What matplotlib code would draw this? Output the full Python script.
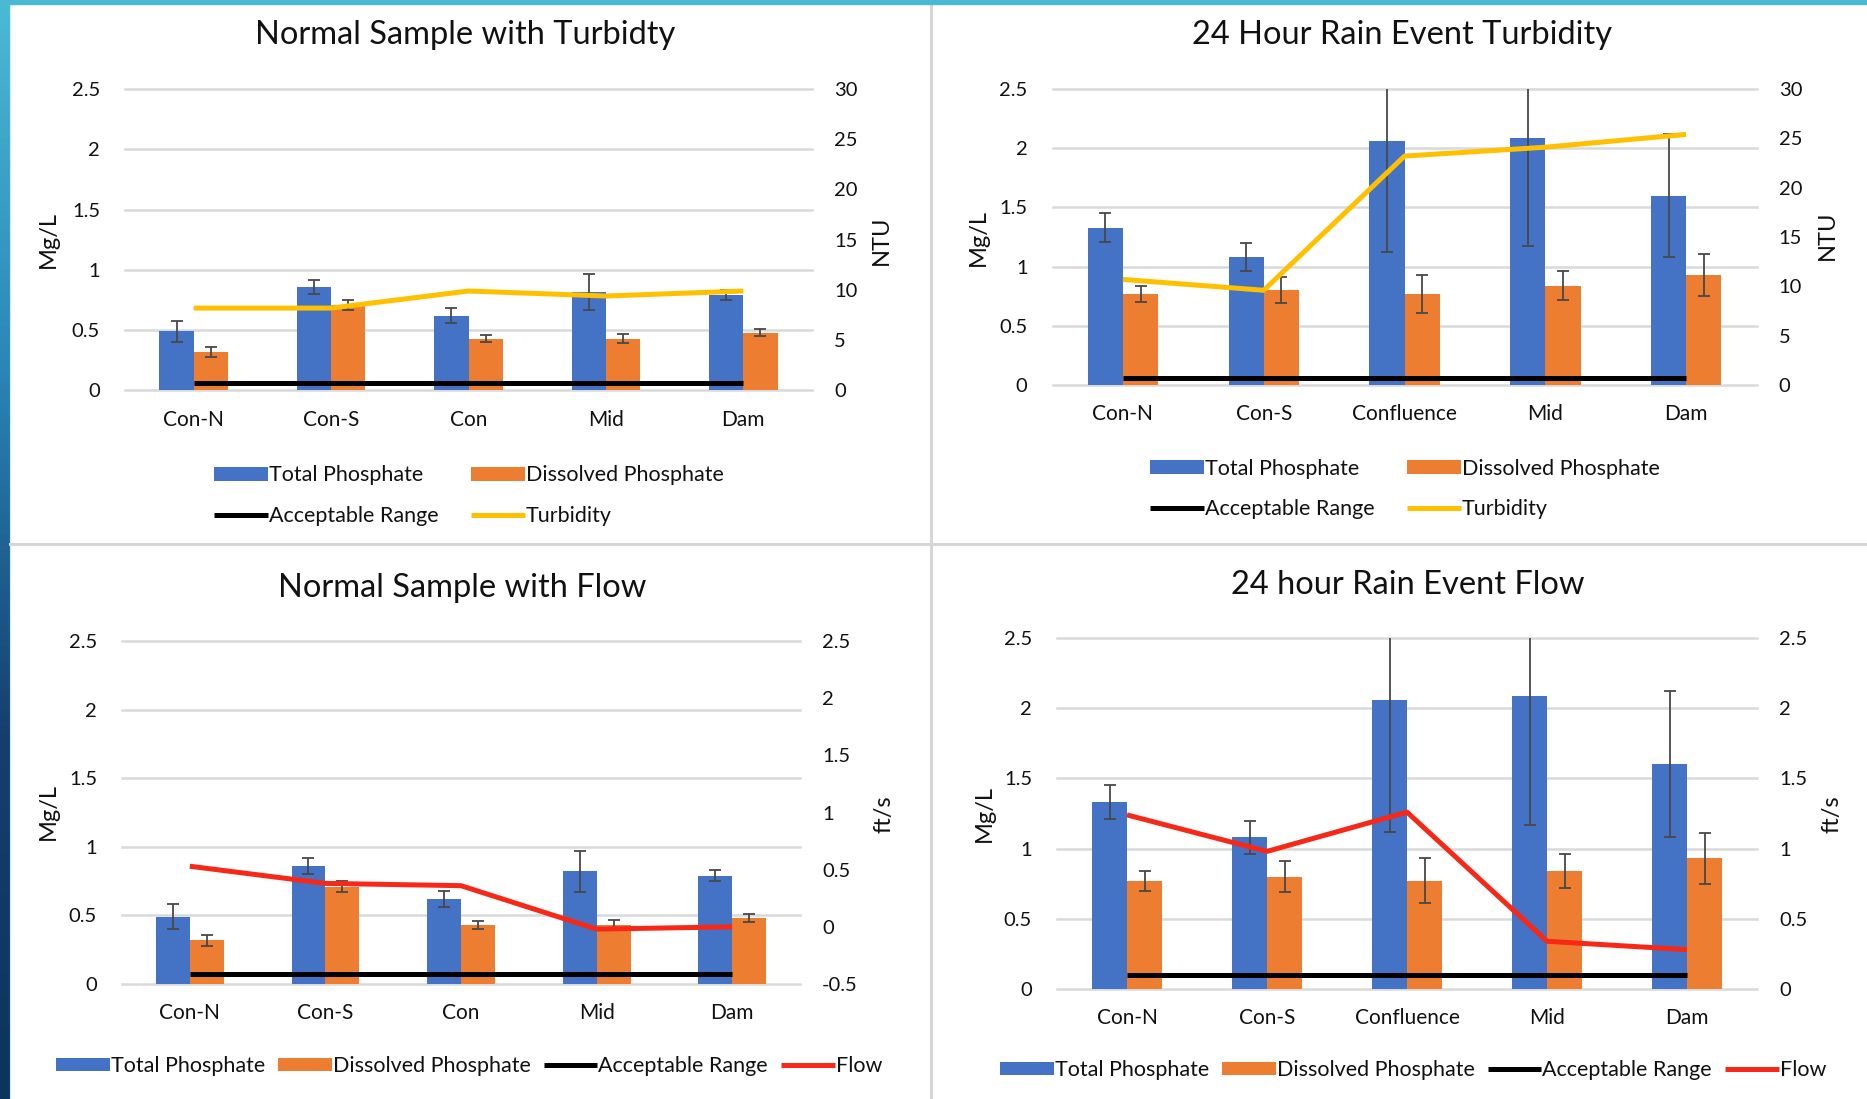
import numpy as np
import matplotlib
matplotlib.use("Agg")
import matplotlib.pyplot as plt
from matplotlib.colors import LinearSegmentedColormap
from matplotlib.lines import Line2D
from matplotlib.patches import Rectangle

plt.rcParams['font.family'] = ['Lato', 'DejaVu Sans']
plt.rcParams['axes.unicode_minus'] = False

# --- data ---
sites_normal = ["Con-N", "Con-S", "Con", "Mid", "Dam"]
sites_rain = ["Con-N", "Con-S", "Confluence", "Mid", "Dam"]

normal_total = [0.49, 0.86, 0.62, 0.82, 0.79]
normal_total_err = [0.09, 0.06, 0.06, 0.15, 0.04]
normal_dissolved = [0.32, 0.71, 0.43, 0.43, 0.48]
normal_dissolved_err = [0.04, 0.04, 0.03, 0.04, 0.03]
normal_turbidity = [8.2, 8.2, 9.9, 9.4, 9.9]      # NTU
normal_flow = [0.53, 0.38, 0.36, -0.02, 0.0]      # ft/s

rain_total = [1.33, 1.08, 2.06, 2.09, 1.60]
rain_total_err = [0.12, 0.12, 0.94, 0.92, 0.52]
rain_dissolved = [0.77, 0.80, 0.77, 0.84, 0.93]
rain_dissolved_err = [0.07, 0.11, 0.16, 0.12, 0.18]
rain_turbidity = [10.7, 9.6, 23.2, 24.1, 25.4]    # NTU
rain_flow = [1.24, 0.98, 1.26, 0.34, 0.28]        # ft/s

# acceptable range line as drawn in each chart (Mg/L)
accept_normal_turb = 0.06
accept_rain_turb = 0.06
accept_normal_flow = 0.07
accept_rain_flow = 0.10

left_ticks = [0, 0.5, 1, 1.5, 2, 2.5]
ntu_ticks = [0, 5, 10, 15, 20, 25, 30]
flow_ticks_normal = [-0.5, 0, 0.5, 1, 1.5, 2, 2.5]
flow_ticks_rain = [0, 0.5, 1, 1.5, 2, 2.5]

BLUE = '#4472C4'
ORANGE = '#ED7D31'
YELLOW = '#FFC000'
RED = '#F82818'
GRID = '#d9d9d9'
TITLE_FS = 23.5
TICK_FS = 14.5
XTICK_FS = 15
LEG_FS = 15.5
LABEL_FS = 17

W, H = 1867, 1099
fig = plt.figure(figsize=(W / 100, H / 100), dpi=100)
fig.patch.set_facecolor('white')


def px_rect(left, top, right, bottom):
    return [left / W, 1 - bottom / H, (right - left) / W, (bottom - top) / H]


def fig_text(x, y, s, **kw):
    fig.text(x / W, 1 - y / H, s, ha='center', va='center', color='#111111', **kw)


def draw_panel(box, sites, total, total_err, dissolved, dissolved_err,
               accept, line_vals, line_color, right_ticks):
    ax = fig.add_axes(px_rect(*box))
    x = np.arange(len(sites))
    w = 0.25
    err_kw = dict(ecolor='#484848', elinewidth=1.3, capsize=4.5, capthick=1.3, zorder=2.5)
    b1 = ax.bar(x - w / 2, total, w, color=BLUE, yerr=total_err, error_kw=err_kw, zorder=2)
    b2 = ax.bar(x + w / 2, dissolved, w, color=ORANGE, yerr=dissolved_err, error_kw=err_kw, zorder=2)
    acc, = ax.plot(x, [accept] * len(x), color='black', lw=3.6, zorder=3, solid_capstyle='butt')

    ax.set_xlim(-0.5, len(x) - 0.5)
    ax.set_ylim(0, 2.5)
    ax.set_yticks(left_ticks, ['%g' % t for t in left_ticks])
    ax.set_xticks(x, sites)
    ax.grid(axis='y', color=GRID, lw=1.8, zorder=0)
    for gl in ax.get_ygridlines():
        gl.set_clip_on(False)
    ax.set_axisbelow(True)
    for s in ax.spines.values():
        s.set_visible(False)
    ax.tick_params(axis='y', length=0, labelsize=TICK_FS, pad=18, labelcolor='#111111')
    ax.tick_params(axis='x', length=0, labelsize=XTICK_FS, pad=14, labelcolor='#111111')

    ax2 = ax.twinx()
    ln, = ax2.plot(x, line_vals, color=line_color, lw=3.6, solid_capstyle='butt', zorder=4)
    ax2.set_ylim(right_ticks[0], right_ticks[-1])
    ax2.set_yticks(right_ticks, ['%g' % t for t in right_ticks])
    for s in ax2.spines.values():
        s.set_visible(False)
    ax2.tick_params(axis='y', length=0, labelsize=TICK_FS, pad=16, labelcolor='#111111')
    return [b1, acc, b2, ln]


def add_legend(handles, labels, cx, cy, ncol, colspace):
    fig.legend(handles, labels, loc='center', bbox_to_anchor=(cx / W, 1 - cy / H),
               ncol=ncol, frameon=False, fontsize=LEG_FS, handlelength=2.5,
               handleheight=0.6, handletextpad=0.05, columnspacing=colspace,
               labelspacing=0.95, borderpad=0, labelcolor='#111111')


# --- slide background: blue strip on the left, cyan strip on top, panel dividers ---
strip = fig.add_axes([0, 0, 9 / W, 1])
cmap = LinearSegmentedColormap.from_list('slide', ['#4bbad5', '#2a86b8', '#153f6e', '#0c355c'])
strip.imshow(np.linspace(0, 1, 256).reshape(-1, 1), aspect='auto', cmap=cmap)
strip.axis('off')
fig.add_artist(Line2D([9.5 / W, 9.5 / W], [0, 1], color='#cfeaf3', lw=0.8))
fig.add_artist(Rectangle((0, 1 - 4 / H), 1, 4 / H, transform=fig.transFigure,
                         color='#4cb9d4', zorder=5))
fig.add_artist(Line2D([931 / W, 931 / W], [0, 1 - 4 / H], color='#d6d6d6', lw=2.2))
fig.add_artist(Line2D([10 / W, 1], [1 - 544 / H, 1 - 544 / H], color='#d6d6d6', lw=2.2))

# --- top left: normal sample with turbidity ---
h = draw_panel((125, 89, 812, 390.5), sites_normal, normal_total, normal_total_err,
               normal_dissolved, normal_dissolved_err, accept_normal_turb,
               normal_turbidity, YELLOW, ntu_ticks)
fig_text(465, 35, "Normal Sample with Turbidty", fontsize=TITLE_FS)
fig_text(48, 240, "Mg/L", fontsize=LABEL_FS, rotation=90)
fig_text(881, 240, "NTU", fontsize=LABEL_FS, rotation=90)
add_legend(h, ["Total Phosphate", "Acceptable Range", "Dissolved Phosphate", "Turbidity"],
           469, 495.5, 2, 1.5)

# --- top right: rain event turbidity ---
h = draw_panel((1052.5, 89, 1756.5, 385), sites_rain, rain_total, rain_total_err,
               rain_dissolved, rain_dissolved_err, accept_rain_turb,
               rain_turbidity, YELLOW, ntu_ticks)
fig_text(1402, 35, "24 Hour Rain Event Turbidity", fontsize=TITLE_FS)
fig_text(978, 237, "Mg/L", fontsize=LABEL_FS, rotation=90)
fig_text(1827, 235, "NTU", fontsize=LABEL_FS, rotation=90)
add_legend(h, ["Total Phosphate", "Acceptable Range", "Dissolved Phosphate", "Turbidity"],
           1405, 489, 2, 1.5)

# --- bottom left: normal sample with flow ---
h = draw_panel((122, 641, 800, 984), sites_normal, normal_total, normal_total_err,
               normal_dissolved, normal_dissolved_err, accept_normal_flow,
               normal_flow, RED, flow_ticks_normal)
fig_text(462, 588, "Normal Sample with Flow", fontsize=TITLE_FS)
fig_text(48, 811, "Mg/L", fontsize=LABEL_FS, rotation=90)
fig_text(884, 814, "ft/s", fontsize=LABEL_FS, rotation=90)
add_legend([h[0], h[2], h[1], h[3]],
           ["Total Phosphate", "Dissolved Phosphate", "Acceptable Range", "Flow"],
           469, 1066, 4, 0.6)

# --- bottom right: rain event flow ---
h = draw_panel((1057, 638, 1757, 989), sites_rain, rain_total, rain_total_err,
               rain_dissolved, rain_dissolved_err, accept_rain_flow,
               rain_flow, RED, flow_ticks_rain)
fig_text(1408, 585, "24 hour Rain Event Flow", fontsize=TITLE_FS)
fig_text(984, 814, "Mg/L", fontsize=LABEL_FS, rotation=90)
fig_text(1832, 814, "ft/s", fontsize=LABEL_FS, rotation=90)
add_legend([h[0], h[2], h[1], h[3]],
           ["Total Phosphate", "Dissolved Phosphate", "Acceptable Range", "Flow"],
           1413, 1070, 4, 0.6)

fig.savefig("out.png", dpi=100)
